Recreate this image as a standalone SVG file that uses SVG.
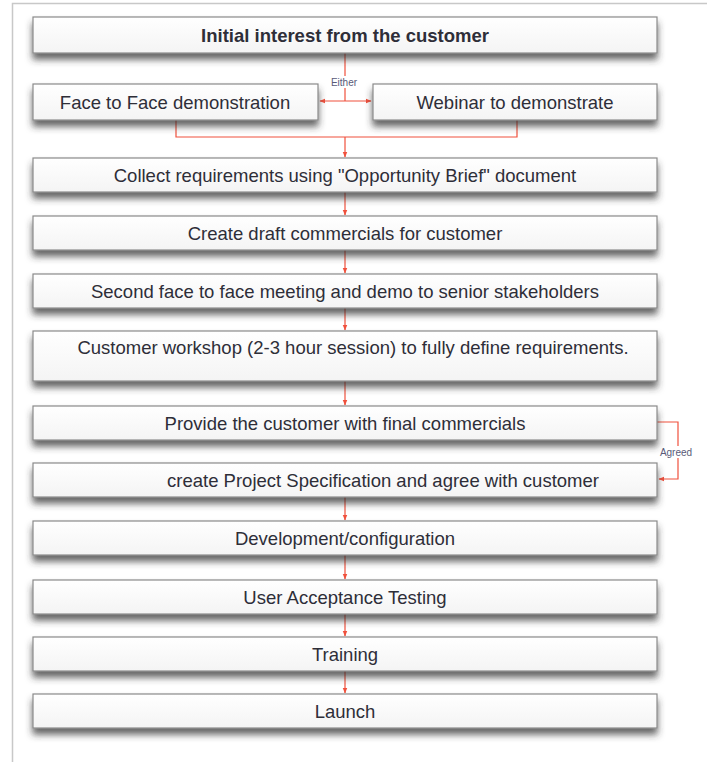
<svg xmlns="http://www.w3.org/2000/svg" width="707" height="762" viewBox="0 0 707 762">
<defs>
<filter id="sh" x="-5%" y="-30%" width="110%" height="190%">
<feDropShadow dx="0" dy="6" stdDeviation="3.5" flood-color="#333" flood-opacity="0.75"/>
</filter>
<linearGradient id="g" x1="0" y1="0" x2="0" y2="1">
<stop offset="0" stop-color="#ffffff"/>
<stop offset="1" stop-color="#f4f4f4"/>
</linearGradient>
<marker id="ah" viewBox="0 0 10 10" refX="9" refY="5" markerWidth="6" markerHeight="6" orient="auto-start-reverse" markerUnits="userSpaceOnUse">
<path d="M0,1 L10,5 L0,9 z" fill="#f0503c"/>
</marker>
</defs>
<style>
.box{fill:url(#g);stroke:#8a8a8a;stroke-width:1.2;filter:url(#sh)}
.t{font-family:"Liberation Sans",Arial,sans-serif;font-size:18.5px;fill:#2e2e38;text-anchor:middle}
.c{fill:none;stroke:#f0503c;stroke-width:1.2}
.s{font-family:"Liberation Sans",Arial,sans-serif;font-size:10px;fill:#5a5a78;text-anchor:middle}
</style>
<rect width="707" height="762" fill="#fff"/>
<path d="M12.5,762 V3.5 H707" fill="none" stroke="#c8c8c8" stroke-width="1.5"/>
<g id="connectors">
<path class="c" d="M345,53 V101"/>
<path class="c" d="M320,101 H371" marker-start="url(#ah)" marker-end="url(#ah)"/>
<path class="c" d="M176,120 V137 H517 V120"/>
<path class="c" d="M345,137 V157" marker-end="url(#ah)"/>
<path class="c" d="M345,192 V215" marker-end="url(#ah)"/>
<path class="c" d="M345,250 V273" marker-end="url(#ah)"/>
<path class="c" d="M345,308 V330" marker-end="url(#ah)"/>
<path class="c" d="M345,381 V405" marker-end="url(#ah)"/>
<path class="c" d="M657,422 H678 V479 H659" marker-end="url(#ah)"/>
<path class="c" d="M345,497 V520" marker-end="url(#ah)"/>
<path class="c" d="M345,555 V579" marker-end="url(#ah)"/>
<path class="c" d="M345,614 V636" marker-end="url(#ah)"/>
<path class="c" d="M345,671 V693" marker-end="url(#ah)"/>
<rect x="328" y="76" width="33" height="12" fill="#fff"/>
<text class="s" x="344" y="86">Either</text>
<rect x="657" y="446" width="38" height="12" fill="#fff"/>
<text class="s" x="676" y="456">Agreed</text>
</g>
<g id="n1"><rect class="box" x="33" y="17" width="624" height="36"/><text class="t" x="345" y="42" font-weight="bold" font-size="17.5">Initial interest from the customer</text></g>
<g id="n2"><rect class="box" x="33" y="84" width="285" height="36"/><text class="t" x="175" y="109">Face to Face demonstration</text></g>
<g id="n3"><rect class="box" x="373" y="84" width="284" height="36"/><text class="t" x="515" y="109">Webinar to demonstrate</text></g>
<g id="n4"><rect class="box" x="33" y="158" width="624" height="34"/><text class="t" x="345" y="182">Collect requirements using "Opportunity Brief" document</text></g>
<g id="n5"><rect class="box" x="33" y="216" width="624" height="34"/><text class="t" x="345" y="240">Create draft commercials for customer</text></g>
<g id="n6"><rect class="box" x="33" y="274" width="624" height="34"/><text class="t" x="345" y="298">Second face to face meeting and demo to senior stakeholders</text></g>
<g id="n7"><rect class="box" x="33" y="331" width="624" height="50"/><text class="t" x="353" y="354">Customer workshop (2-3 hour session) to fully define requirements.</text></g>
<g id="n8"><rect class="box" x="33" y="406" width="624" height="34"/><text class="t" x="345" y="430">Provide the customer with final commercials</text></g>
<g id="n9"><rect class="box" x="33" y="463" width="624" height="34"/><text class="t" x="383" y="487">create Project Specification and agree with customer</text></g>
<g id="n10"><rect class="box" x="33" y="521" width="624" height="34"/><text class="t" x="345" y="545">Development/configuration</text></g>
<g id="n11"><rect class="box" x="33" y="580" width="624" height="34"/><text class="t" x="345" y="604">User Acceptance Testing</text></g>
<g id="n12"><rect class="box" x="33" y="637" width="624" height="34"/><text class="t" x="345" y="661">Training</text></g>
<g id="n13"><rect class="box" x="33" y="694" width="624" height="34"/><text class="t" x="345" y="718">Launch</text></g>
</svg>
